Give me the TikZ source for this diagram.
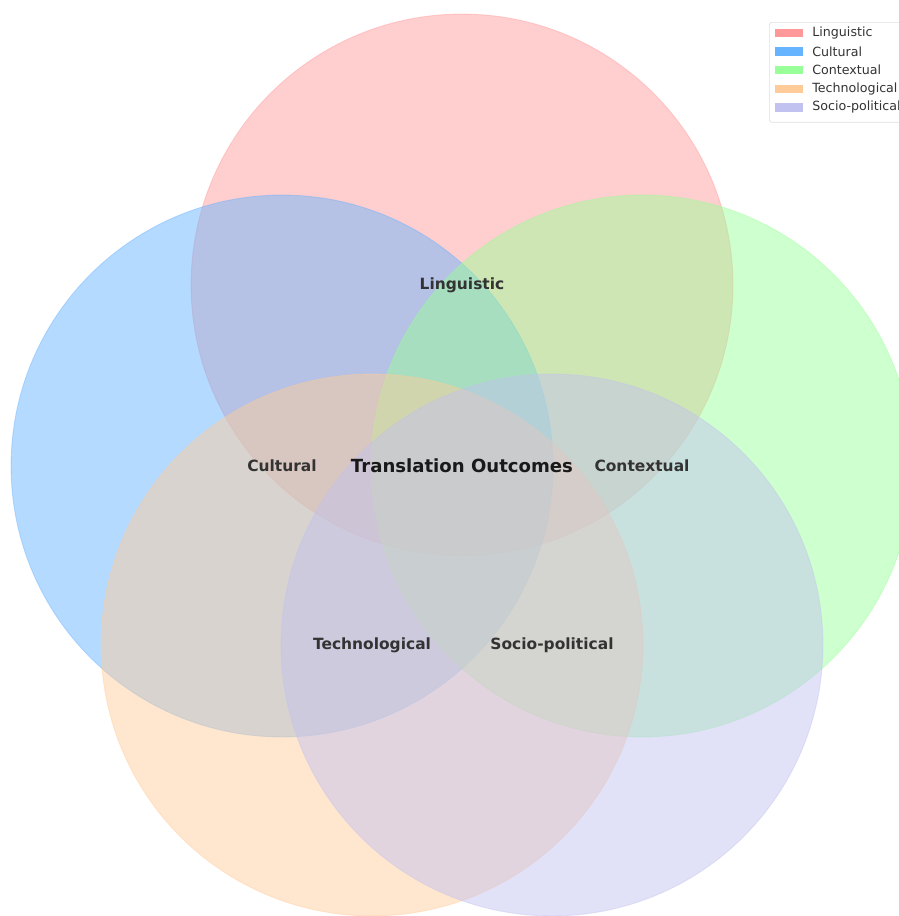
\documentclass[tikz,border=0pt]{standalone}
\usepackage{fontspec}
\setmainfont{DejaVu Sans}

\definecolor{lingred}{HTML}{FF9999}
\definecolor{cultblue}{HTML}{66B3FF}
\definecolor{contgreen}{HTML}{99FF99}
\definecolor{techorange}{HTML}{FFCC99}
\definecolor{sociopurple}{HTML}{C2C2F0}
\definecolor{labelgray}{HTML}{333333}

\tikzset{
	venn/.style={circle, minimum size=10.84cm, inner sep=0pt, draw=#1, fill=#1, fill opacity=0.48, draw opacity=0.4, line width=0.5pt},
	factor/.style={font=\bfseries\fontsize{8.8}{10}\selectfont, text=labelgray},
	outcome/.style={font=\bfseries\fontsize{10.3}{12}\selectfont, text=black!90},
	legendpatch/.style={fill=#1, minimum width=0.56cm, minimum height=0.17cm, inner sep=0pt},
	legendtext/.style={font=\fontsize{7.2}{8}\selectfont, text=labelgray, anchor=west, inner sep=0pt}
}

\begin{document}
\begin{tikzpicture}[x=0.02cm, y=-0.02cm]
		\clip (0,0) rectangle (899,916);
		\fill[white] (0,0) rectangle (899,916);
		
		% factor circles
		\node[venn=lingred] (Linguistic) at (462,285) {};
		\node[venn=cultblue] (Cultural) at (282,466) {};
		\node[venn=contgreen] (Contextual) at (642,466) {};
		\node[venn=techorange] (Technological) at (372,645) {};
		\node[venn=sociopurple] (SocioPolitical) at (552,645) {};
		
		% labels
		\node[factor] (LinguisticLabel) at (Linguistic) {Linguistic};
		\node[factor] (CulturalLabel) at (Cultural) {Cultural};
		\node[factor] (ContextualLabel) at (Contextual) {Contextual};
		\node[factor] (TechnologicalLabel) at (Technological) {Technological};
		\node[factor] (SocioPoliticalLabel) at (SocioPolitical) {Socio-political};
		\node[outcome] (Outcomes) at (462,466) {Translation Outcomes};
		
		% legend
		\node[draw=black!12, fill=white, fill opacity=0.8, rounded corners=1.5pt, minimum width=2.9cm, minimum height=2.0cm, anchor=north west] (Legend) at (769,22) {};
		\foreach \name/\col [count=\i] in {Linguistic/lingred, Cultural/cultblue, Contextual/contgreen, Technological/techorange, Socio-political/sociopurple} {
			\node[legendpatch=\col] (Patch\i) at (789,{33+18.6*(\i-1)}) {};
			\node[legendtext] (Entry\i) at (812,{33+18.6*(\i-1)}) {\name};
		}
	\end{tikzpicture}
\end{document}
